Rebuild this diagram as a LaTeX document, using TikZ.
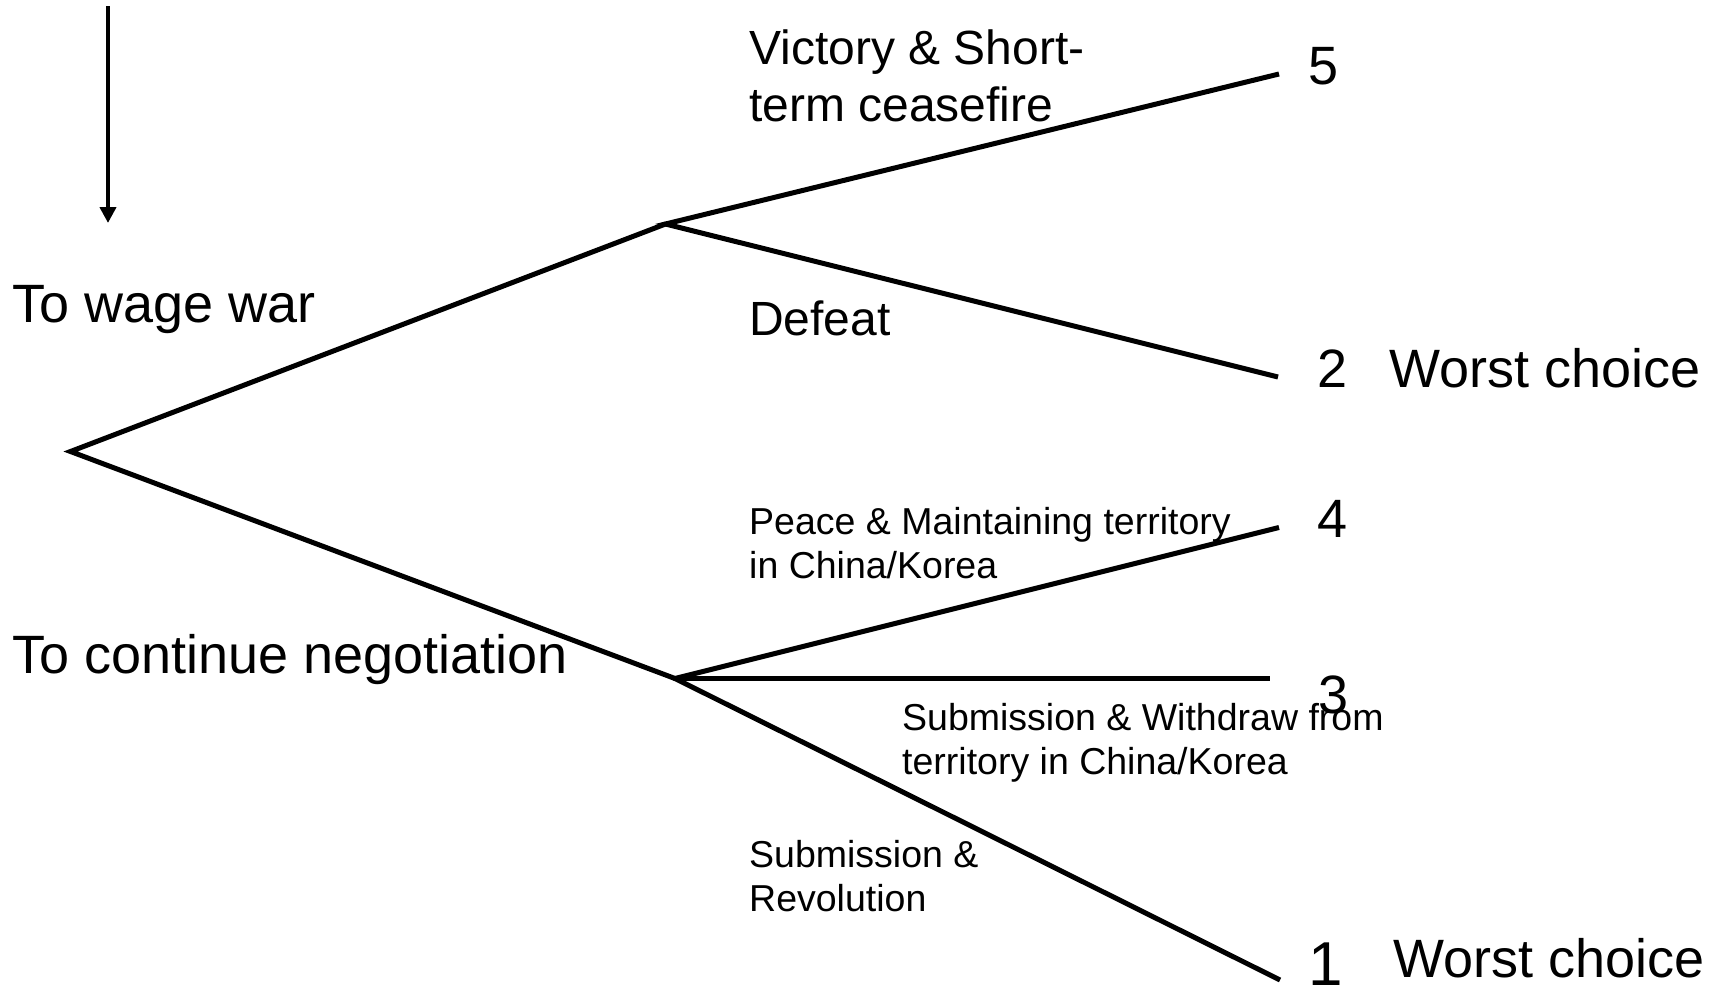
\documentclass[tikz,border=0pt]{standalone}
\usepackage{fontspec}
\setmainfont{Liberation Sans}
\usetikzlibrary{arrows.meta}
\begin{document}
\begin{tikzpicture}[x=1pt,y=-1pt,
  branch/.style={line width=5pt,line join=miter},
  arrowline/.style={line width=4.5pt,-{Triangle[width=16pt,length=16pt]}},
  big/.style={inner sep=0pt,anchor=base west,font=\fontsize{54}{64}\selectfont},
  bigger/.style={inner sep=0pt,anchor=base west,font=\fontsize{62}{72}\selectfont},
  mid/.style={inner sep=0pt,anchor=base west,font=\fontsize{48}{57}\selectfont},
  small/.style={inner sep=0pt,anchor=base west,font=\fontsize{37.5}{44}\selectfont}]
\useasboundingbox (0,0) rectangle (1719,985);
% tree points
\coordinate (root) at (70.5,451.5);
\coordinate (up) at (665.5,224);
\coordinate (low) at (675,678.5);
\coordinate (l5) at (1279,74);
\coordinate (l2) at (1278,377);
\coordinate (l4) at (1279,527.5);
\coordinate (l3) at (1270,678.5);
\coordinate (l1) at (1280,980);
\coordinate (a0) at (108,6);
\coordinate (a1) at (108,223);
% connectors
\draw[arrowline] (a0) -- (a1);
\draw[branch] (up) -- (root) -- (low);
\draw[branch] (l5) -- (up) -- (l2);
\draw[branch] (l4) -- (low) -- (l1);
\draw[branch] (low) -- (l3);
% labels
\node[big] (tw) at (12,322) {To wage war};
\node[big] (tcn) at (12,673) {To continue negotiation};
\node[mid] (vic1) at (749,64) {Victory \& Short-};
\node[mid] (vic2) at (749,121) {term ceasefire};
\node[mid] (def) at (749,335) {Defeat};
\node[small] (p1) at (749,534) {Peace \& Maintaining territory};
\node[small] (p2) at (749,578) {in China/Korea};
\node[small] (s1) at (902,730) {Submission \& Withdraw from};
\node[small] (s2) at (902,774) {territory in China/Korea};
\node[small] (r1) at (749,867) {Submission \&};
\node[small] (r2) at (749,911) {Revolution};
% payoffs
\node[big] (n5) at (1308,84) {5};
\node[big] (n2) at (1317,387) {2};
\node[big] (wc1) at (1389,387) {Worst choice};
\node[big] (n4) at (1317,537) {4};
\node[big] (n3) at (1318,713) {3};
\node[bigger] (n1) at (1308,985.5) {1};
\node[big] (wc2) at (1393,977) {Worst choice};
\end{tikzpicture}
\end{document}
